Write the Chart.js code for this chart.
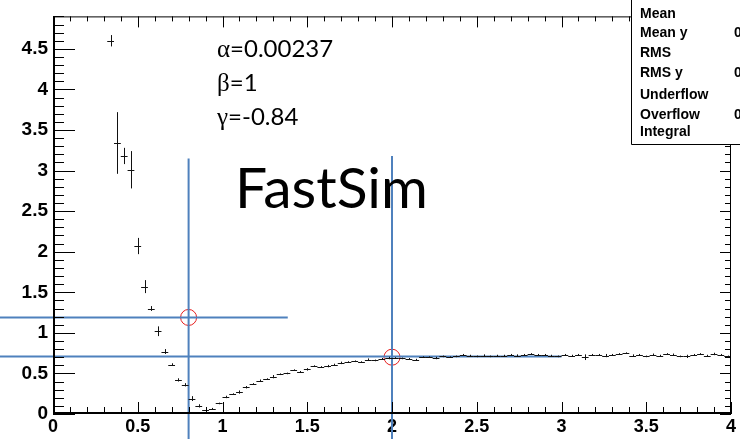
<!DOCTYPE html>
<html>
<head>
<meta charset="utf-8">
<script src="https://cdn.jsdelivr.net/npm/chart.js@4/dist/chart.umd.min.js"></script>
<style>
  html, body { margin: 0; padding: 0; background: #fff; }
  #wrap { width: 740px; height: 439px; position: relative; overflow: hidden; }
</style>
</head>
<body>
<div id="wrap"><canvas id="c" width="740" height="439"></canvas></div>
<script>
// Histogram bins (centres, contents, errors)
const binCenters = [
  0.34, 0.38, 0.42, 0.46, 0.50, 0.54, 0.58, 0.62, 0.66, 0.70, 0.74, 0.78, 0.82, 0.86, 0.90, 0.94, 0.98,
  1.02, 1.06, 1.10, 1.14, 1.18, 1.22, 1.26, 1.30, 1.34, 1.38, 1.42, 1.46, 1.50, 1.54, 1.58, 1.62, 1.66,
  1.70, 1.74, 1.78, 1.82, 1.86, 1.90, 1.94, 1.98,
  2.02, 2.06, 2.10, 2.14, 2.18, 2.22, 2.26, 2.30, 2.34, 2.38, 2.42, 2.46, 2.50, 2.54, 2.58, 2.62, 2.66,
  2.70, 2.74, 2.78, 2.82, 2.86, 2.90, 2.94, 2.98,
  3.02, 3.06, 3.10, 3.14, 3.18, 3.22, 3.26, 3.30, 3.34, 3.38, 3.42, 3.46, 3.50, 3.54, 3.58, 3.62, 3.66,
  3.70, 3.74, 3.78, 3.82, 3.86, 3.90, 3.94, 3.98
];
const binValues = [
  4.60, 3.34, 3.18, 3.01, 2.07, 1.57, 1.30, 1.02, 0.77, 0.61, 0.42, 0.36, 0.19, 0.10, 0.05, 0.065, 0.13,
  0.21, 0.245, 0.27, 0.33, 0.37, 0.41, 0.43, 0.46, 0.49, 0.50, 0.54, 0.52, 0.55, 0.59, 0.58, 0.59, 0.61,
  0.63, 0.64, 0.65, 0.64, 0.67, 0.66, 0.68, 0.69,
  0.69, 0.685, 0.68, 0.67, 0.70, 0.70, 0.69, 0.71, 0.70, 0.71, 0.73, 0.72, 0.71, 0.72, 0.71, 0.72, 0.72,
  0.73, 0.72, 0.73, 0.74, 0.73, 0.73, 0.72, 0.71,
  0.73, 0.72, 0.73, 0.70, 0.73, 0.73, 0.72, 0.73, 0.74, 0.75, 0.72, 0.73, 0.71, 0.73, 0.72, 0.74, 0.73,
  0.71, 0.71, 0.73, 0.74, 0.72, 0.74, 0.73, 0.71
];
const binErrors = [
  0.07, 0.38, 0.10, 0.23, 0.10, 0.08, 0.03, 0.06, 0.03, 0.015, 0.02, 0.02, 0.03, 0.02, 0.02, 0.01, 0.01,
  0.015, 0.01, 0.02, 0.015, 0.01, 0.015, 0.01, 0.02, 0.01, 0.01, 0.01, 0.01, 0.015, 0.01, 0.01, 0.015, 0.01,
  0.015, 0.01, 0.01, 0.01, 0.015, 0.01, 0.01, 0.015,
  0.01, 0.01, 0.01, 0.01, 0.01, 0.01, 0.015, 0.01, 0.01, 0.01, 0.01, 0.01, 0.01, 0.015, 0.01, 0.01, 0.01,
  0.01, 0.015, 0.01, 0.01, 0.01, 0.01, 0.01, 0.01,
  0.01, 0.01, 0.01, 0.035, 0.01, 0.01, 0.02, 0.01, 0.01, 0.01, 0.015, 0.01, 0.01, 0.015, 0.01, 0.01, 0.015,
  0.01, 0.02, 0.01, 0.01, 0.01, 0.015, 0.01, 0.01
];
const binHalfWidth = 0.02;

// Axis ticks
const xTickLabels = ['0', '0.5', '1', '1.5', '2', '2.5', '3', '3.5', '4'];
const yTickLabels = ['0', '0.5', '1', '1.5', '2', '2.5', '3', '3.5', '4', '4.5'];
const xMinorStep = 0.1;
const yMinorStep = 0.1;

// Guide lines and marked points
const guideUpper = [{ x: -0.32, y: 1.19 }, { x: 1.385, y: 1.19 }];
const guideLower = [{ x: -0.32, y: 0.71 }, { x: 3.0, y: 0.71 }];
const guideLeftV = [{ x: 0.8, y: 3.15 }, { x: 0.8, y: -0.31 }];
const guideRightV = [{ x: 2.0, y: 3.18 }, { x: 2.0, y: -0.31 }];
const markedPoints = [{ x: 0.8, y: 1.19 }, { x: 2.0, y: 0.70 }];

// Parameter labels and statistics box rows
const paramSymbols = ['\u03B1', '\u03B2', '\u03B3'];
const paramValues = ['=0.00237', '=1', '=-0.84'];
const statNames = ['Mean', 'Mean y', 'RMS', 'RMS y', 'Underflow', 'Overflow', 'Integral'];
const statValues = ['', '0', '', '0', '', '0', ''];

const BLUE = 'rgb(79,129,189)';
const histPoints = binCenters.map((c, i) => ({ x: c, y: binValues[i] }));

// Crosses: bin width horizontally, error vertically
const errorBars = {
  id: 'errorBars',
  afterDatasetsDraw(chart) {
    const { ctx, scales: { x, y } } = chart;
    const meta = chart.getDatasetMeta(0);
    ctx.save();
    ctx.strokeStyle = '#111';
    ctx.lineWidth = 1;
    ctx.beginPath();
    meta.data.forEach((pt, i) => {
      const c = binCenters[i], v = binValues[i], e = binErrors[i];
      const py = Math.round(pt.y) + 0.5, px = Math.round(pt.x) + 0.5;
      ctx.moveTo(x.getPixelForValue(c - binHalfWidth), py);
      ctx.lineTo(x.getPixelForValue(c + binHalfWidth), py);
      ctx.moveTo(px, y.getPixelForValue(v + e));
      ctx.lineTo(px, y.getPixelForValue(v - e));
    });
    ctx.stroke();
    ctx.restore();
  }
};

// Inward ticks along one side of the frame
function drawTicks(ctx, scale, lo, hi, step, majorEvery, horizontal, base, dir, majLen, minLen) {
  const n = Math.round((hi - lo) / step);
  for (let k = 0; k <= n; k++) {
    const v = lo + k * step;
    const p = Math.round(scale.getPixelForValue(v)) + 0.5;
    const len = (k % majorEvery === 0) ? majLen : minLen;
    if (horizontal) { ctx.moveTo(p, base); ctx.lineTo(p, base + dir * len); }
    else { ctx.moveTo(base, p); ctx.lineTo(base + dir * len, p); }
  }
}

const frame = {
  id: 'frame',
  afterDraw(chart) {
    const { ctx, chartArea: a, scales: { x, y } } = chart;
    ctx.save();
    ctx.strokeStyle = '#000';
    ctx.lineWidth = 1;
    ctx.beginPath();
    ctx.rect(a.left + 0.5, a.top + 0.5, a.right - a.left - 1, a.bottom - a.top - 1);
    drawTicks(ctx, x, 0, 4, xMinorStep, 5, true, a.bottom, -1, 12, 7);
    drawTicks(ctx, x, 0, 4, xMinorStep, 5, true, a.top, 1, 11, 5);
    drawTicks(ctx, y, 0, 4.9, yMinorStep, 5, false, a.left, 1, 22, 11);
    drawTicks(ctx, y, 0, 4.9, yMinorStep, 5, false, a.right, -1, 11, 6);
    ctx.stroke();
    // heavier left and bottom axis lines
    ctx.lineWidth = 2;
    ctx.beginPath();
    ctx.moveTo(a.left + 1, a.top);
    ctx.lineTo(a.left + 1, a.bottom - 1);
    ctx.lineTo(a.right, a.bottom - 1);
    ctx.stroke();

    // parameter annotations
    ctx.fillStyle = '#000';
    ctx.textBaseline = 'alphabetic';
    paramSymbols.forEach((s, i) => {
      const by = 57 + i * 34;
      ctx.font = '25px "Liberation Serif"';
      ctx.fillText(s, 217, by);
      const w = ctx.measureText(s).width;
      ctx.font = '24px Lato';
      ctx.fillText(paramValues[i], 217 + w, by);
    });
    ctx.font = '57px Lato';
    ctx.fillText('FastSim', 235, 208);

    // statistics box
    ctx.lineWidth = 1;
    ctx.fillStyle = '#fff';
    ctx.fillRect(631, -2, 120, 147);
    ctx.beginPath();
    ctx.rect(631.5, -1.5, 120, 146);
    ctx.stroke();
    ctx.fillStyle = '#000';
    ctx.font = 'bold 14px "Liberation Sans"';
    ctx.textBaseline = 'middle';
    const rowY = [14, 33, 53, 73, 95, 115, 132];
    statNames.forEach((s, i) => {
      ctx.fillText(s, 640, rowY[i]);
      if (statValues[i]) ctx.fillText(statValues[i], 734, rowY[i]);
    });
    ctx.restore();
  }
};

const lineDs = (pts) => ({
  type: 'line', data: pts, borderColor: BLUE, borderWidth: 2,
  pointRadius: 0, fill: false, clip: false, tension: 0
});

new Chart(document.getElementById('c'), {
  type: 'scatter',
  data: {
    datasets: [
      { data: histPoints, pointRadius: 0, pointHoverRadius: 0, showLine: false, clip: false },
      lineDs(guideUpper), lineDs(guideLower), lineDs(guideLeftV), lineDs(guideRightV),
      { data: markedPoints, pointRadius: 8, pointBorderColor: 'rgb(230,30,30)', pointBorderWidth: 1,
        pointBackgroundColor: 'rgba(0,0,0,0)', showLine: false, clip: false }
    ]
  },
  options: {
    responsive: false,
    devicePixelRatio: 1,
    animation: false,
    events: [],
    layout: { padding: { top: 13, right: 7, left: 0, bottom: 0 } },
    plugins: { legend: { display: false }, tooltip: { enabled: false } },
    scales: {
      x: {
        type: 'linear', min: 0, max: 4,
        grid: { display: false, drawTicks: false },
        border: { display: false },
        afterBuildTicks: (s) => { s.ticks = xTickLabels.map(t => ({ value: parseFloat(t) })); },
        afterFit: (s) => { s.height = 25; },
        ticks: {
          autoSkip: false, maxRotation: 0, padding: 2, color: '#000',
          font: { family: '"Liberation Sans"', size: 18, weight: 'bold' },
          callback: (v, i) => xTickLabels[i]
        }
      },
      y: {
        type: 'linear', min: 0, max: 4.9,
        grid: { display: false, drawTicks: false },
        border: { display: false },
        afterBuildTicks: (s) => { s.ticks = yTickLabels.map(t => ({ value: parseFloat(t) })); },
        afterFit: (s) => { s.width = 53; },
        ticks: {
          autoSkip: false, padding: 5, color: '#000',
          font: { family: '"Liberation Sans"', size: 19, weight: 'bold' },
          callback: (v, i) => yTickLabels[i]
        }
      }
    }
  },
  plugins: [errorBars, frame]
});
</script>
</body>
</html>
